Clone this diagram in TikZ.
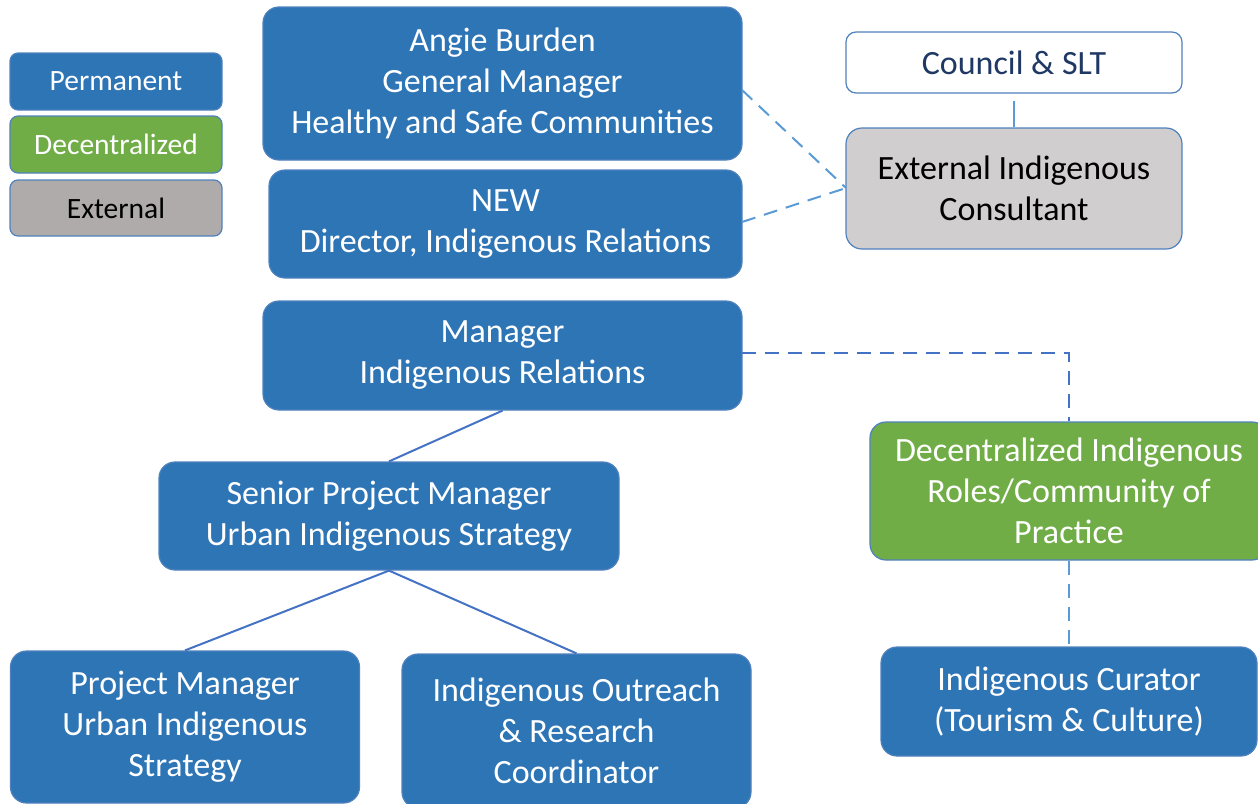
\documentclass[tikz,border=0pt]{standalone}
\usepackage{fontspec}
\setmainfont{Carlito}
\definecolor{permblue}{HTML}{2E75B6}
\definecolor{edgeblue}{HTML}{4F81BD}
\definecolor{decgreen}{HTML}{70AD47}
\definecolor{extgray}{HTML}{D0CECE}
\definecolor{leggray}{HTML}{AFABAB}
\definecolor{navy}{HTML}{1F3864}
\definecolor{dashblue}{HTML}{5B9BD5}
\definecolor{lineblue}{HTML}{4472C4}
\tikzset{
  box/.style={rectangle, rounded corners=16pt, draw=edgeblue, line width=1.2pt, align=center,
    font=\fontsize{34}{41}\selectfont, inner sep=0pt},
  perm/.style={box, fill=permblue, text=white},
  dec/.style={box, fill=decgreen, text=white},
  ext/.style={box, fill=extgray, text=black},
  wbox/.style={box, fill=white, text=navy, rounded corners=10pt},
  leg/.style={rounded corners=8pt, font=\fontsize{29.5}{34}\selectfont},
  dconn/.style={draw=dashblue, line width=2pt, dash pattern=on 14pt off 9pt},
  sconn/.style={draw=lineblue, line width=2pt},
}
\begin{document}
\begin{tikzpicture}[x=1pt,y=-1pt]
\useasboundingbox (0,0) rectangle (1258,803);
\clip (0,0) rectangle (1258,803);
% legend
\node[perm, leg, minimum width=212pt, minimum height=57pt] (lp) at (116,81.5) {Permanent};
\node[dec, leg, minimum width=212pt, minimum height=57pt] (ld) at (116,144.5) {Decentralized};
\node[ext, leg, fill=leggray, minimum width=212pt, minimum height=56pt] (le) at (116,208) {External};
% main boxes
\node[perm, minimum width=479pt, minimum height=153pt] (gm) at (502.5,83.5) {Angie Burden\\General Manager\\Healthy and Safe Communities};
\node[perm, minimum width=473pt, minimum height=108pt] (dir) at (505.5,224) {NEW\\Director, Indigenous Relations};
\node[wbox, minimum width=336pt, minimum height=61pt] (cou) at (1014,62.5) {Council \& SLT};
\node[ext, minimum width=336pt, minimum height=121pt] (eic) at (1014,188.5) {External Indigenous\\Consultant};
\node[perm, minimum width=479pt, minimum height=109pt] (mgr) at (502.5,355.5) {Manager\\Indigenous Relations};
\node[dec, minimum width=398pt, minimum height=138pt] (dir2) at (1069,491) {Decentralized Indigenous\\Roles/Community of\\Practice};
\node[perm, minimum width=376pt, minimum height=109pt] (cur) at (1069,701.5) {Indigenous Curator\\(Tourism \& Culture)};
\node[perm, minimum width=460pt, minimum height=108pt] (spm) at (389,516) {Senior Project Manager\\Urban Indigenous Strategy};
\node[perm, minimum width=349pt, minimum height=152pt] (pm) at (185,727) {Project Manager\\Urban Indigenous\\Strategy};
\node[perm, minimum width=349pt, minimum height=154pt] (ior) at (576.5,731) {Indigenous Outreach\\\& Research\\Coordinator};
% connectors
\coordinate (gmr) at (742,90);
\coordinate (dirr) at (742,222);
\coordinate (eicl) at (846,188);
\draw[dconn] (gmr) -- (eicl);
\draw[dconn] (dirr) -- (eicl);
\draw[draw=dashblue, line width=2pt] ([yshift=-7pt]cou.south) -- (eic.north);
\coordinate (mr) at (742,353);
\coordinate (bend) at (1069,353);
\draw[dconn, draw=lineblue] (mr) -- (bend) -- (dir2.north);
\draw[dconn] (dir2.south) -- (cur.north);
\draw[sconn] (mgr.south) -- (spm.north);
\draw[sconn] (spm.south) -- (pm.north);
\draw[sconn] (spm.south) -- (ior.north);
\end{tikzpicture}
\end{document}
